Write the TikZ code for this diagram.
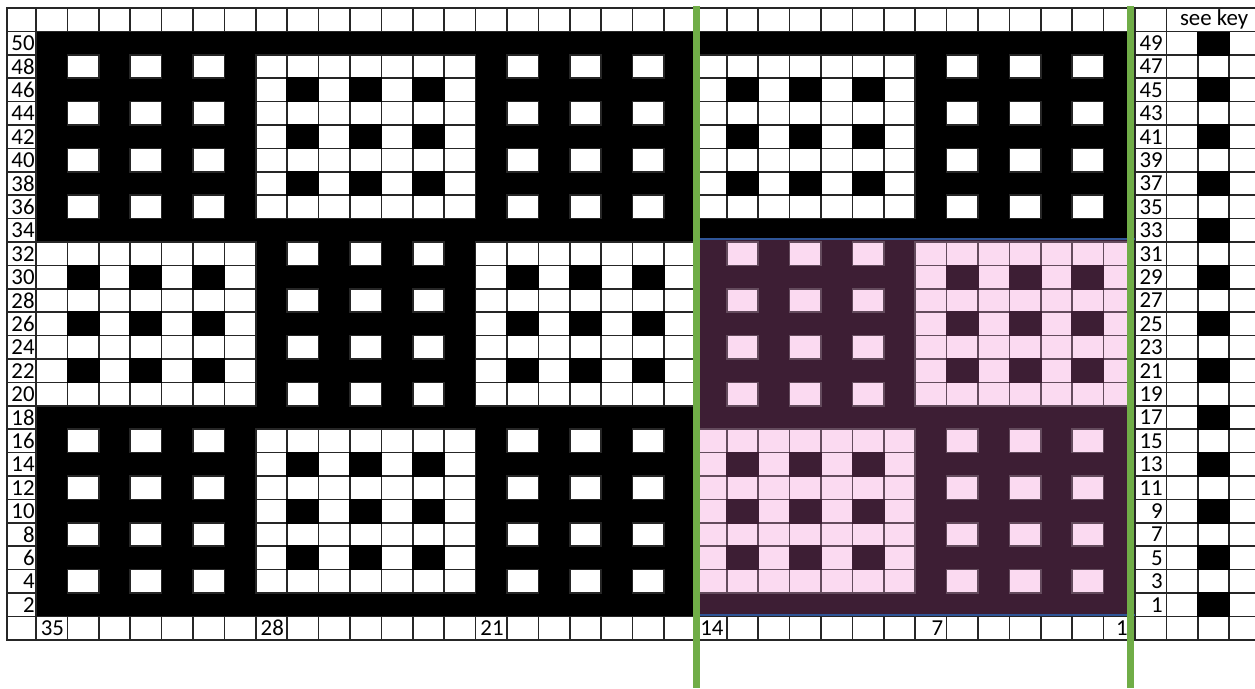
\documentclass[tikz,border=0pt]{standalone}
\usepackage{fontspec}
\setmainfont{Carlito}
\definecolor{plum}{HTML}{3D1E34}
\definecolor{blush}{HTML}{FBDAF1}
\definecolor{cutgreen}{HTML}{70AD47}
\definecolor{edgeblue}{HTML}{2F5597}

\begin{document}
\begin{tikzpicture}[x=0.2mm,y=-0.2mm,
cellline/.style={draw=black!85,line width=0.3mm},
whitecell/.style={cellline,fill=white},
blackcell/.style={fill=black,draw=black,line width=0.3mm},
pinkcell/.style={fill=blush,draw=plum!80!white,line width=0.3mm},
plumcell/.style={fill=plum,draw=plum,line width=0.3mm},
lab/.style={font=\fontsize{13}{14}\selectfont,inner sep=0pt},
rowlab/.style={lab,anchor=east},
cutline/.style={draw=cutgreen,line width=1.4mm},
tintedge/.style={draw=edgeblue,line width=0.4mm}]
\useasboundingbox (0,0) rectangle (1255,688);
% chart ground: black, with the plum corner
\fill[black] (36,31.4) rectangle (1135,616.4);
\fill[plum] (695.4,238) rectangle (1135,616.4);
% 7x7 blocks: dots or checks
\foreach \br in {0,1,2}{
  \foreach \bc in {0,...,4}{
    \pgfmathtruncatemacro{\kind}{mod(\br+\bc,2)}
    \pgfmathtruncatemacro{\tint}{and(\br>0,\bc>2)}
    \ifnum\tint=1
      \tikzset{litecell/.style={pinkcell},darkcell/.style={plumcell}}
    \else
      \tikzset{litecell/.style={whitecell},darkcell/.style={blackcell}}
    \fi
    \ifnum\kind=0
      \foreach \i in {0,2,4,6}
        \foreach \j in {1,3,5}
          \draw[litecell] ({36+(7*\bc+\j)*31.4},{31.4+(8*\br+1+\i)*23.4}) rectangle ++(31.4,23.4);
    \else
      \foreach \i in {0,...,6}
        \foreach \j in {0,...,6}
          \draw[litecell] ({36+(7*\bc+\j)*31.4},{31.4+(8*\br+1+\i)*23.4}) rectangle ++(31.4,23.4);
      \foreach \i in {1,3,5}
        \foreach \j in {1,3,5}
          \draw[darkcell] ({36+(7*\bc+\j)*31.4},{31.4+(8*\br+1+\i)*23.4}) rectangle ++(31.4,23.4);
    \fi
  }
}
% header and footer rows
\foreach \c in {0,...,34}{
  \draw[whitecell] ({36+\c*31.4},8) rectangle ++(31.4,23.4);
  \draw[whitecell] ({36+\c*31.4},616.4) rectangle ++(31.4,23.4);
}
% row number columns
\foreach \r in {-1,...,25}{
  \draw[whitecell] (7,{31.4+\r*23.4}) rectangle ++(29,23.4);
  \draw[whitecell] (1135,{31.4+\r*23.4}) rectangle ++(31.4,23.4);
}
% key columns
\foreach \r in {0,...,25}
  \foreach \k in {0,1,2}
    \draw[whitecell] ({1166.4+\k*31.4},{31.4+\r*23.4}) rectangle ++(31.4,23.4);
\foreach \r in {0,2,...,24}
  \draw[blackcell] (1197.8,{31.4+\r*23.4}) rectangle ++(31.4,23.4);
\draw[whitecell] (1166.4,8) rectangle (1265,31.4);
\node[lab] (seekey) at (1214,19.7) {see key};
% edges of the tinted part
\draw[tintedge] (695.4,238.5) -- (1135,238.5);
\draw[tintedge] (695.4,614.5) -- (1135,614.5);
% row and stitch numbers
\foreach \r in {0,...,24}{
  \pgfmathtruncatemacro{\evenno}{50-2*\r}
  \pgfmathtruncatemacro{\oddno}{49-2*\r}
  \node[rowlab] (row\evenno) at (35,{31.4+(\r+0.5)*23.4}) {\evenno};
  \node[rowlab] (row\oddno) at (1163,{31.4+(\r+0.5)*23.4}) {\oddno};
}
\foreach \n/\c in {35/0,28/7,21/14,14/21,7/28}
  \node[rowlab] (st\n) at ({36+(\c+1)*31.4-3},628.1) {\n};
\node[rowlab] (st1) at (1128,628.1) {1};
% green cut lines
\draw[cutline] (696.5,6) -- (696.5,688);
\draw[cutline] (1130,6) -- (1130,688);
\end{tikzpicture}
\end{document}
